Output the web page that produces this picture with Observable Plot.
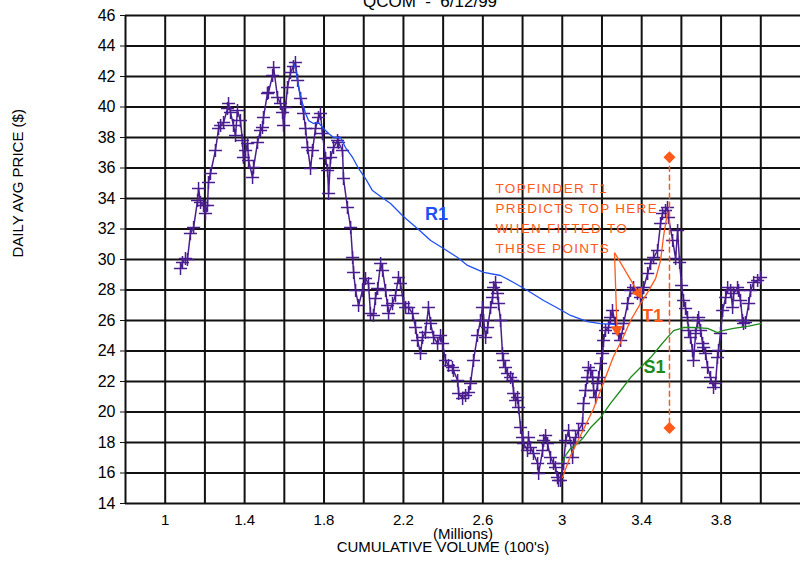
<!DOCTYPE html>
<html><head><meta charset="utf-8">
<script src="https://cdn.jsdelivr.net/npm/d3@7"></script>
<script src="https://cdn.jsdelivr.net/npm/@observablehq/plot@0.6"></script>
<style>body{margin:0;background:#fff;} #chart svg{display:block;overflow:visible;}</style>
</head><body><div id="chart"></div>
<script>
// Daily average price vs cumulative volume (millions)
const volume = [1.077,1.087,1.102,1.112,1.127,1.143,1.163,1.168,1.178,1.193,1.203,1.213,1.218,1.228,1.253,1.269,1.279,1.294,1.314,1.319,1.329,1.344,1.354,1.364,1.379,1.389,1.394,1.405,1.415,1.420,1.440,1.445,1.465,1.480,1.490,1.495,1.515,1.520,1.541,1.546,1.566,1.581,1.591,1.596,1.606,1.616,1.631,1.646,1.656,
1.667,1.682,1.697,1.707,1.717,1.732,1.742,1.757,1.772,1.782,1.792,1.808,1.818,1.823,1.833,1.848,1.868,1.873,1.893,1.898,1.918,1.934,1.944,1.949,1.959,1.974,1.994,2.009,2.024,2.034,2.049,2.059,2.070,2.085,2.095,2.110,2.120,2.125,2.145,2.160,2.175,2.185,2.201,2.211,2.226,2.246,2.261,2.271,2.286,2.296,2.311,2.326,2.337,2.352,2.372,2.387,2.397,2.412,2.427,2.447,2.452,2.473,2.478,2.498,2.513,2.528,2.538,2.553,2.573,2.588,2.598,2.604,2.614,2.624,2.639,2.649,2.654,2.664,2.674,2.679,2.689,2.699,2.704,2.714,2.724,2.740,2.750,2.755,2.765,2.775,2.780,2.790,2.800,2.805,2.825,2.830,2.840,2.855,2.876,2.881,2.901,2.906,2.916,2.926,2.941,2.956,2.966,2.976,2.981,2.991,
3.007,3.017,3.032,3.052,3.057,3.067,3.082,3.102,3.107,3.117,3.127,3.132,3.143,3.153,3.158,3.168,3.178,3.183,3.193,3.203,3.208,3.218,3.233,3.243,3.253,3.268,3.284,3.294,3.309,3.329,3.344,3.359,3.379,3.394,3.410,3.430,3.445,3.460,3.480,3.495,3.505,3.520,3.530,3.535,3.556,3.571,3.581,3.591,3.601,3.611,3.621,3.631,3.636,3.646,3.656,3.661,3.672,3.682,3.687,3.697,3.707,3.712,3.722,3.732,3.747,3.762,3.772,3.782,3.787,3.797,3.808,3.823,3.833,3.848,3.858,3.863,3.883,3.888,3.898,3.908,3.913,3.923,3.939,3.949,3.964,3.984,3.999];
const price = [29.41,29.80,30.07,30.00,31.70,32.10,33.87,34.66,33.74,33.54,33.02,33.54,35.05,35.64,37.15,38.59,38.79,38.98,39.90,40.23,39.64,38.79,38.13,39.77,39.11,37.80,36.69,37.15,37.61,36.49,35.38,36.03,37.67,38.46,38.66,39.31,40.89,40.95,42.07,42.59,40.62,40.23,39.64,38.79,39.97,41.28,42.26,42.66,42.92,
41.74,40.56,39.57,38.59,37.34,35.97,37.15,38.59,39.31,39.57,38.26,36.62,35.84,34.33,36.69,37.34,37.80,37.67,37.15,35.31,33.41,32.10,30.13,29.15,27.97,26.98,27.97,28.75,28.43,26.46,26.33,27.44,28.10,29.74,29.28,27.97,26.98,26.46,27.11,27.64,28.82,28.43,27.11,26.85,26.85,26.46,25.54,24.69,23.84,24.89,25.21,26.85,25.80,24.89,24.49,25.02,24.49,23.38,23.05,22.92,22.72,22.07,21.21,20.89,21.08,21.28,21.87,23.38,25.02,26.00,26.85,26.00,24.89,25.54,26.85,27.51,28.16,28.49,27.77,27.11,26.00,23.84,23.38,22.92,22.52,22.26,22.07,21.21,20.75,20.95,20.30,18.98,18.33,17.93,17.48,18.33,17.67,17.28,16.62,15.97,17.48,18.13,18.46,17.93,17.02,16.62,16.36,15.70,15.51,15.51,
16.62,18.13,18.79,17.02,17.93,18.33,18.79,19.25,20.56,21.41,22.26,22.92,22.72,22.26,21.41,20.95,21.87,22.26,23.18,23.84,24.69,25.34,25.54,26.20,26.66,25.80,25.15,24.69,25.80,27.11,27.97,28.16,27.77,27.51,28.16,29.08,29.74,30.13,30.59,32.36,33.02,33.21,33.41,32.75,31.25,30.07,31.90,29.80,28.30,27.31,26.79,26.20,25.34,24.89,24.03,23.38,25.15,26.00,26.20,25.34,24.49,24.23,23.84,22.92,22.26,21.61,21.87,23.57,24.03,25.15,26.66,27.51,28.16,27.97,26.85,27.77,28.16,27.97,27.31,26.00,25.80,25.87,27.11,27.97,28.49,28.62,28.82];

// R1 resistance curve
const r1Volume = [1.646,1.656,1.672,1.692,1.707,1.722,1.747,1.772,1.797,1.823,1.848,1.883,1.908,1.944,1.974,2.009,2.044,2.085,2.135,2.200,2.276,2.337,2.402,2.473,2.523,2.604,2.689,2.755,2.825,2.906,2.971,3.042,3.127,3.193,3.263];
const r1Price = [42.85,42.59,41.28,40.23,39.57,39.11,38.92,38.98,38.59,38.26,38.00,38.00,37.34,36.69,35.97,35.31,34.52,34.13,33.67,32.82,31.97,31.25,30.72,30.13,29.61,29.15,28.95,28.49,27.97,27.31,26.85,26.33,25.93,25.80,25.74];
// S1 support curve
const s1Volume = [3.001,3.017,3.042,3.077,3.107,3.143,3.193,3.243,3.294,3.344,3.394,3.445,3.495,3.530,3.561,3.611,3.661,3.732,3.782,3.808,3.863,3.933,3.999];
const s1Price = [16.69,17.15,17.61,17.93,18.33,18.98,19.64,20.56,21.41,22.26,22.92,23.57,24.36,24.89,25.34,25.54,25.54,25.48,25.21,25.34,25.48,25.61,25.80];
// T1 topfinder curve
const t1Volume = [3.001,3.042,3.092,3.158,3.208,3.258,3.304,3.344,3.394,3.430,3.470,3.495,3.510,3.530];
const t1Price = [15.70,17.15,18.46,20.23,21.93,23.64,24.82,26.00,27.11,27.84,28.75,29.93,31.51,33.08];

// predicted top marker (dashed vertical with diamonds)
const topVolume = [3.54, 3.54];
const topPrice = [36.7, 18.95];

// annotation arrows: start and tip
const arrowX1 = [3.263, 3.263], arrowY1 = [30.42, 30.46];
const arrowX2 = [3.276, 3.384], arrowY2 = [25.4, 27.8];
const arrowAngle = [177, 150];

const noteLines = ["TOPFINDER T1", "PREDICTS TOP HERE", "WHEN FITTED TO", "THESE POINTS"];
const noteY = [34.66, 33.34, 32.03, 30.72];
const noteX = 2.664;

const curveLabels = ["R1", "T1", "S1"];
const curveLabelX = [2.367, 3.455, 3.465];
const curveLabelY = [33.0, 26.26, 22.92];
const curveLabelColor = ["#1f4ff5", "#ff5a1a", "#1d8a1d"];

const xTicks = [1, 1.4, 1.8, 2.2, 2.6, 3, 3.4, 3.8];
const xGrid = [0.8, 1.0, 1.2, 1.4, 1.6, 1.8, 2.0, 2.2, 2.4, 2.6, 2.8, 3.0, 3.2, 3.4, 3.6, 3.8, 4.0];
const yTicks = [14, 16, 18, 20, 22, 24, 26, 28, 30, 32, 34, 36, 38, 40, 42, 44, 46];

const title = "QCOM\u00a0 - \u00a06/12/99";
const yTitle = "DAILY AVG PRICE ($)";
const xUnit = "(Millions)";
const xTitle = "CUMULATIVE VOLUME (100's)";

const pts = volume.map((v, i) => ({v, p: price[i]}));
const r1 = r1Volume.map((v, i) => ({v, p: r1Price[i]}));
const s1 = s1Volume.map((v, i) => ({v, p: s1Price[i]}));
const t1 = t1Volume.map((v, i) => ({v, p: t1Price[i]}));
const topPts = topVolume.map((v, i) => ({v, p: topPrice[i]}));
const arrows = arrowX1.map((x1, i) => ({x1, y1: arrowY1[i], x2: arrowX2[i], y2: arrowY2[i], a: arrowAngle[i]}));
const notes = noteLines.map((t, i) => ({t, x: noteX, y: noteY[i]}));
const labels = curveLabels.map((t, i) => ({t, x: curveLabelX[i], y: curveLabelY[i], c: curveLabelColor[i]}));

const purple = "#4a1d8f";
const orange = "#ff5a1a";
const font = "Liberation Sans, Arial, sans-serif";

const chart = Plot.plot({
  width: 800, height: 562,
  marginLeft: 125, marginRight: 0, marginTop: 15, marginBottom: 59,
  style: {fontFamily: font, background: "#fff", color: "#000"},
  x: {domain: [0.8, 4.2], axis: null},
  y: {domain: [14, 46], axis: null},
  marks: [
    Plot.ruleX(xGrid, {stroke: "#111", strokeWidth: 2}),
    Plot.ruleY(yTicks, {stroke: "#111", strokeWidth: 2}),
    Plot.axisY({ticks: yTicks, tickSize: 5, tickPadding: 5, fontSize: 16, label: null, stroke: "#111"}),
    Plot.axisX({ticks: xTicks, tickSize: 0, tickPadding: 11, fontSize: 15, label: null, tickFormat: d => String(d)}),
    Plot.line(pts, {x: "v", y: "p", stroke: purple, strokeWidth: 1.5}),
    Plot.dot(pts, {x: "v", y: "p", symbol: "plus", r: 4.3, stroke: purple, strokeWidth: 1.5}),
    Plot.line(r1, {x: "v", y: "p", stroke: "#1f4ff5", strokeWidth: 1.3}),
    Plot.line(s1, {x: "v", y: "p", stroke: "#1d8a1d", strokeWidth: 1.3}),
    Plot.line(t1, {x: "v", y: "p", stroke: orange, strokeWidth: 1.3}),
    Plot.line(topPts, {x: "v", y: "p", stroke: orange, strokeWidth: 1.5, strokeDasharray: "5,4"}),
    Plot.dot(topPts, {x: "v", y: "p", symbol: "square", r: 4.8, fill: orange, rotate: 45}),
    Plot.link(arrows, {x1: "x1", y1: "y1", x2: "x2", y2: "y2", stroke: orange, strokeWidth: 1.3}),
    Plot.dot(arrows, {x: "x2", y: "y2", symbol: "triangle", r: 4.5, fill: orange, rotate: "a"}),
    Plot.text(notes, {x: "x", y: "y", text: "t", fill: orange, fontSize: 13.5, textAnchor: "start"}),
    Plot.text(labels, {x: "x", y: "y", text: "t", fill: "c", fontSize: 18, fontWeight: "bold"}),
    Plot.text([title], {frameAnchor: "top", dx: -33, dy: -21, fontSize: 17}),
    Plot.text([yTitle], {frameAnchor: "left", rotate: -90, dx: -107, dy: -2, fontSize: 15}),
    Plot.text([xUnit], {frameAnchor: "bottom", dx: 0, dy: 35, fontSize: 15}),
    Plot.text([xTitle], {frameAnchor: "bottom", dx: -20, dy: 48, fontSize: 15})
  ]
});
document.getElementById("chart").appendChild(chart);
d3.select(chart).selectAll("text").filter(function() { return noteLines.includes(this.textContent); })
  .style("letter-spacing", "1.3px");
</script>
</body></html>
